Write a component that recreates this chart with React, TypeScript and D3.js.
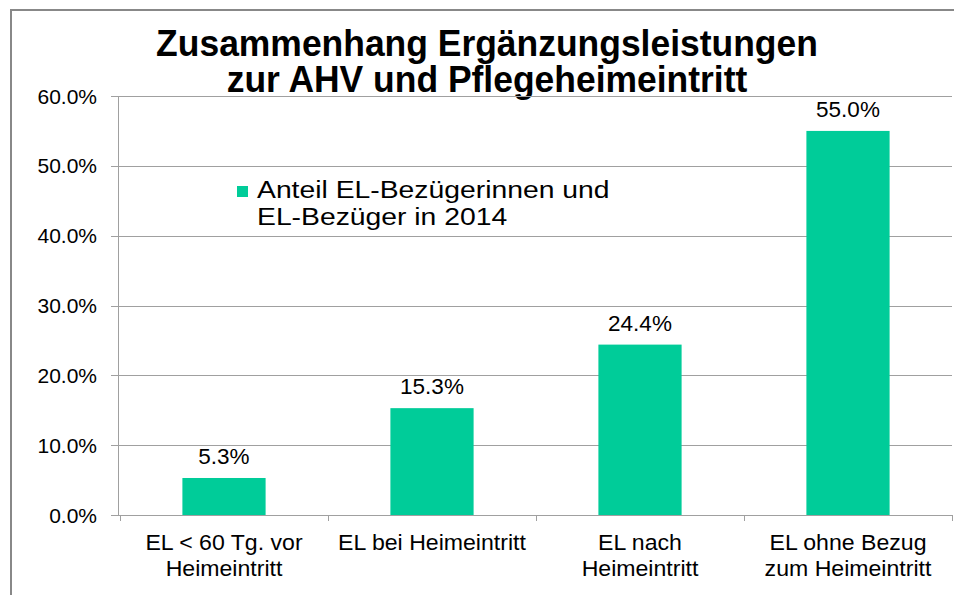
import React from "react";
import * as d3 from "d3";

const categories: string[][] = [
  ["EL < 60 Tg. vor", "Heimeintritt"],
  ["EL bei Heimeintritt"],
  ["EL nach", "Heimeintritt"],
  ["EL ohne Bezug", "zum Heimeintritt"],
];
const values: number[] = [5.3, 15.3, 24.4, 55.0];
const yTicks: number[] = [0, 10, 20, 30, 40, 50, 60];
const titleLines: string[] = ["Zusammenhang Ergänzungsleistungen", "zur AHV und Pflegeheimeintritt"];
const legendLines: string[] = ["Anteil EL-Bezügerinnen und", "EL-Bezüger in 2014"];

const W = 954;
const H = 595;
const FONT = "'Liberation Sans', Arial, sans-serif";
const BAR = "#00CC99";
const GRID = "#A0A0A0";

export default function App() {
  const left = 118;
  const right = 952;
  const top = 96;
  const bottom = 515;

  const x = d3
    .scaleBand<number>()
    .domain(categories.map((_, i) => i))
    .range([left + 2, right])
    .paddingInner(0.6)
    .paddingOuter(0.3);
  const y = d3.scaleLinear().domain([0, 60]).range([bottom, top]);
  const step = x.step();
  const bounds = d3.range(categories.length + 1).map((i) => left + 2 + i * step);

  return (
    <svg
      width={W}
      height={H}
      style={{ position: "absolute", left: 0, top: 0, background: "#fff" }}
    >
      <rect x={0} y={0} width={W} height={H} fill="#fff" />
      {/* outer frame */}
      <path d={`M11,${H} V10 H${W}`} fill="none" stroke="#888" strokeWidth={2} />

      {/* title */}
      {titleLines.map((t, i) => (
        <text
          key={t}
          transform={`translate(487,${56 + i * 36}) scale(0.985,1)`}
          textAnchor="middle"
          fontFamily={FONT}
          fontWeight="bold"
          fontSize={36}
          fill="#000"
        >
          {t}
        </text>
      ))}

      {/* gridlines & y ticks */}
      {yTicks.map((t) => (
        <g key={t}>
          <line x1={left} x2={right} y1={Math.round(y(t)) + 0.5} y2={Math.round(y(t)) + 0.5} stroke={GRID} strokeWidth={1} />
          <line x1={left - 7} x2={left} y1={Math.round(y(t)) + 0.5} y2={Math.round(y(t)) + 0.5} stroke={GRID} strokeWidth={1} />
          <text
            x={97}
            y={y(t) + 7.5}
            textAnchor="end"
            fontFamily={FONT}
            fontSize={21}
            fill="#000"
          >
            {t.toFixed(1) + "%"}
          </text>
        </g>
      ))}
      {/* y axis */}
      <line x1={left + 0.5} x2={left + 0.5} y1={top} y2={bottom} stroke={GRID} strokeWidth={1} />
      {/* x tick marks */}
      {bounds.map((b, i) => (
        <line key={i} x1={Math.round(b) + 0.5} x2={Math.round(b) + 0.5} y1={bottom} y2={bottom + 6} stroke={GRID} strokeWidth={1} />
      ))}

      {/* bars */}
      {values.map((v, i) => (
        <g key={i}>
          <rect x={x(i)!} y={y(v)} width={x.bandwidth()} height={bottom - y(v)} fill={BAR} />
          <text
            x={x(i)! + x.bandwidth() / 2}
            y={y(v) - 14}
            textAnchor="middle"
            fontFamily={FONT}
            fontSize={22.5}
            fill="#000"
          >
            {v.toFixed(1) + "%"}
          </text>
        </g>
      ))}

      {/* category labels */}
      {categories.map((lines, i) =>
        lines.map((l, j) => (
          <text
            key={i + "-" + j}
            transform={`translate(${x(i)! + x.bandwidth() / 2},${550 + j * 26}) scale(1.05,1)`}
            textAnchor="middle"
            fontFamily={FONT}
            fontSize={22}
            fill="#000"
          >
            {l}
          </text>
        ))
      )}

      {/* legend */}
      <rect x={237} y={186} width={11} height={11} fill={BAR} />
      {legendLines.map((l, i) => (
        <text
          key={l}
          transform={`translate(257,${198 + i * 27}) scale(1.18,1)`}
          fontFamily={FONT}
          fontSize={24}
          fill="#000"
        >
          {l}
        </text>
      ))}
    </svg>
  );
}
